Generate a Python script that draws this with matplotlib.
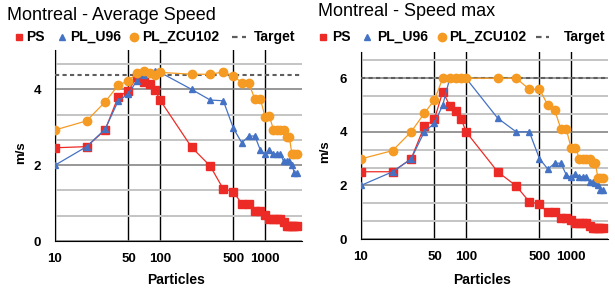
import matplotlib
matplotlib.use("Agg")
import matplotlib.pyplot as plt
from matplotlib.lines import Line2D
from matplotlib.ticker import FixedLocator, MultipleLocator, NullFormatter

plt.rcParams['font.family'] = ['Liberation Sans', 'DejaVu Sans']

particles = [10, 20, 30, 40, 50, 60, 70, 80, 90, 100,
             200, 300, 400, 500, 600, 700, 800, 900, 1000,
             1100, 1200, 1300, 1400, 1500, 1600, 1700, 1800, 1900, 2000]

avg_ps = [2.46, 2.49, 2.93, 3.81, 3.96, 4.33, 4.2, 4.13, 3.98, 3.72,
          2.47, 1.98, 1.37, 1.3, 0.98, 0.98, 0.8, 0.8, 0.69,
          0.59, 0.59, 0.59, 0.59, 0.49, 0.4, 0.4, 0.4, 0.4, 0.4]
avg_u96 = [2.0, 2.49, 2.95, 3.7, 3.88, 4.23, 4.38, 4.45, 4.48, 4.45,
           4.0, 3.72, 3.7, 2.97, 2.59, 2.77, 2.77, 2.4, 2.29,
           2.4, 2.3, 2.3, 2.3, 2.1, 2.1, 2.1, 2.0, 1.8, 1.8]
avg_zcu = [2.93, 3.17, 3.67, 4.11, 4.23, 4.42, 4.49, 4.44, 4.38, 4.45,
           4.4, 4.4, 4.46, 4.35, 4.18, 4.16, 3.74, 3.76, 3.27,
           3.29, 2.94, 2.94, 2.94, 2.94, 2.75, 2.75, 2.29, 2.29, 2.29]
avg_target = 4.38

max_ps = [2.51, 2.51, 2.99, 4.2, 4.47, 5.5, 4.98, 4.79, 4.48, 4.0,
          2.51, 1.98, 1.39, 1.3, 0.99, 0.99, 0.79, 0.79, 0.7,
          0.61, 0.61, 0.61, 0.61, 0.5, 0.4, 0.4, 0.4, 0.4, 0.4]
max_u96 = [2.0, 2.51, 2.99, 4.0, 4.32, 5.0, 6.0, 6.0, 6.0, 6.0,
           4.51, 4.0, 4.0, 3.0, 2.61, 2.83, 2.83, 2.39, 2.3,
           2.42, 2.33, 2.33, 2.33, 2.12, 2.12, 2.08, 2.0, 1.82, 1.82]
max_zcu = [2.99, 3.3, 4.0, 4.69, 5.19, 6.0, 6.0, 6.0, 6.0, 6.0,
           6.0, 6.0, 5.59, 5.59, 5.0, 4.8, 4.1, 4.1, 3.4,
           3.4, 3.0, 3.0, 3.0, 3.0, 2.82, 2.82, 2.29, 2.29, 2.29]
max_target = 6.0

xticks = [10, 50, 100, 500, 1000]
series_names = ["PS", "PL_U96", "PL_ZCU102", "Target"]

RED = "#ED2B26"
BLUE = "#4472C4"
ORANGE = "#F59B23"
DASH = "#5E5E5E"


def draw_panel(ax, ps, u96, zcu, target, ytop):
    ax.set_xscale("log")
    ax.set_xlim(10, 2230)
    ax.set_ylim(0, ytop)
    ax.axhline(target, color=DASH, lw=1.5, ls=(0, (2.0, 1.6)), zorder=3)
    ax.plot(particles, ps, color=RED, lw=0.9, marker="s", ms=5.2, zorder=4)
    ax.plot(particles, u96, color=BLUE, lw=0.9, marker="^", ms=4.0, zorder=5)
    ax.plot(particles, zcu, color=ORANGE, lw=0.9, marker="o", ms=6.0, zorder=6)

    ax.xaxis.set_major_locator(FixedLocator(xticks))
    ax.xaxis.set_minor_locator(FixedLocator([]))
    ax.set_xticklabels([str(t) for t in xticks])
    ax.xaxis.set_minor_formatter(NullFormatter())
    ax.yaxis.set_major_locator(MultipleLocator(2))
    ax.yaxis.set_minor_locator(MultipleLocator(2 / 3))
    ax.tick_params(which="both", length=0)
    ax.tick_params(axis="x", pad=9)
    ax.tick_params(axis="y", pad=10)
    for lab in ax.get_xticklabels() + ax.get_yticklabels():
        lab.set_fontweight("bold")
        lab.set_fontsize(9.5)

    ax.grid(True, axis="x", which="major", color="black", lw=1.0, zorder=1)
    ax.grid(True, axis="y", which="major", color="#7A7A7A", lw=1.1, zorder=1)
    ax.grid(True, axis="y", which="minor", color="#C4C4C4", lw=1.4, zorder=1)
    ax.set_axisbelow(True)
    for s in ["top", "right"]:
        ax.spines[s].set_visible(False)
    ax.spines["left"].set_color("black")
    ax.spines["bottom"].set_color("black")
    ax.set_xlabel("Particles", fontsize=10, fontweight="bold")
    ax.set_ylabel("m/s", fontsize=9.5, fontweight="bold")


def draw_legend(fig, y, marks, texts):
    styles = [dict(marker="s", color=RED, ms=5, ls="none"),
              dict(marker="^", color=BLUE, ms=4, ls="none"),
              dict(marker="o", color=ORANGE, ms=6, ls="none")]
    W, H = 615.0, 291.0
    for i in range(3):
        fig.add_artist(Line2D([marks[i] / W], [1 - y / H], transform=fig.transFigure, **styles[i]))
    fig.add_artist(Line2D([marks[3][0] / W, marks[3][1] / W], [1 - y / H, 1 - y / H],
                          transform=fig.transFigure, color=DASH, lw=1.6, ls=(0, (2.5, 2.0))))
    for name, tx in zip(series_names, texts):
        fig.text(tx / W, 1 - y / H, name, fontsize=10, fontweight="bold", va="center", ha="left")


fig = plt.figure(figsize=(6.15, 2.91), dpi=100)
ax1 = fig.add_axes([55 / 615, 1 - 241 / 291, 246.7 / 615, 191 / 291])
ax2 = fig.add_axes([361 / 615, 1 - 239 / 291, 246.7 / 615, 187 / 291])

draw_panel(ax1, avg_ps, avg_u96, avg_zcu, avg_target, 5.04)
draw_panel(ax2, max_ps, max_u96, max_zcu, max_target, 6.98)

ax1.xaxis.set_label_coords(0.49, -0.165)
ax1.yaxis.set_label_coords(-0.115, 0.46)
ax2.xaxis.set_label_coords(0.49, -0.18)
ax2.yaxis.set_label_coords(-0.12, 0.465)

fig.text(7 / 615, 1 - 16 / 291, "Montreal - Average Speed", fontsize=13, va="center", ha="left")
fig.text(318 / 615, 1 - 11 / 291, "Montreal - Speed max", fontsize=13, va="center", ha="left")

draw_legend(fig, 37, [19, 62, 134, (232, 246)], [26, 70, 142, 254])
draw_legend(fig, 37, [323, 367, 442, (536, 549)], [332, 377, 449, 564])

fig.savefig("out.png", dpi=100)
